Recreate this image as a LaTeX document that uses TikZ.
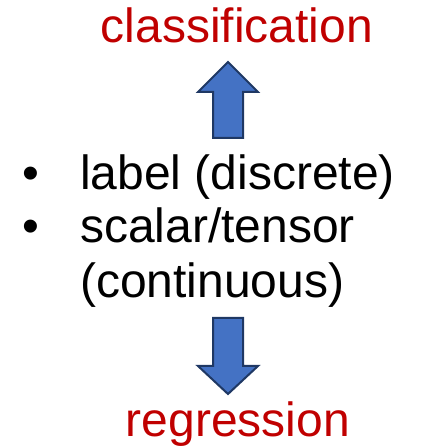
\documentclass[tikz,border=0pt]{standalone}
\usepackage{fontspec}
\setmainfont{Liberation Sans}
\definecolor{redtxt}{HTML}{C00000}
\definecolor{arrfill}{HTML}{4472C4}
\definecolor{arrdraw}{HTML}{1F3864}
\begin{document}
\begin{tikzpicture}[x=1pt,y=1pt,
  title/.style={inner sep=0pt,anchor=base,text=redtxt,font=\fontsize{48}{52}\selectfont},
  item/.style={inner sep=0pt,anchor=base west,font=\fontsize{48}{54}\selectfont},
  blockarrow/.style={fill=arrfill,draw=arrdraw,line width=2pt,line join=miter}]
\useasboundingbox (0,0) rectangle (426,448);
% titles
\node[title] (cls) at (237,{448-43}) {classification};
\node[title] (reg) at (238,{448-437}) {regression};
% bullet list
\node[item] (b1) at (22,{448-190}) {\textbullet};
\node[item] (t1) at (80,{448-190}) {label (discrete)};
\node[item] (b2) at (22,{448-243}) {\textbullet};
\node[item] (t2) at (80,{448-243}) {scalar/tensor};
\node[item] (t3) at (80,{448-298}) {(continuous)};
% up arrow
\draw[blockarrow] (213,{448-138}) -- (213,{448-92}) -- (198,{448-92}) -- (228,{448-62})
  -- (258,{448-92}) -- (243,{448-92}) -- (243,{448-138}) -- cycle;
% down arrow
\draw[blockarrow] (213,{448-318}) -- (213,{448-366}) -- (198,{448-366}) -- (228,{448-394})
  -- (258,{448-366}) -- (243,{448-366}) -- (243,{448-318}) -- cycle;
\end{tikzpicture}
\end{document}
